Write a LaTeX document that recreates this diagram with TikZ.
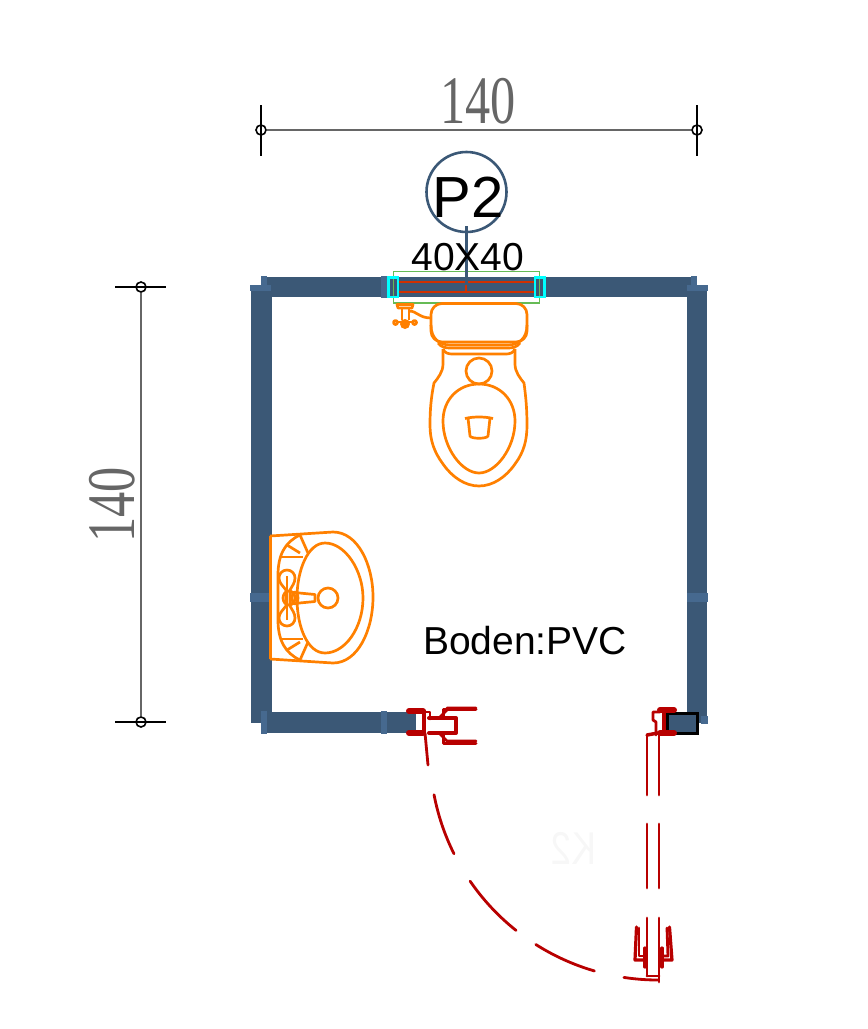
\documentclass[tikz,border=0pt]{standalone}
\usepackage{fontspec}
\setmainfont{Liberation Sans}
\newfontfamily\dimfont{Liberation Serif}
\definecolor{wallblue}{HTML}{3B5876}
\definecolor{stubblue}{HTML}{46698F}
\definecolor{sanorange}{HTML}{FF8000}
\definecolor{doorred}{HTML}{B80000}
\definecolor{dimgrey}{HTML}{666666}
\definecolor{winred}{HTML}{D03000}
\definecolor{wingreen}{HTML}{66BB55}
\definecolor{wincyan}{HTML}{00FFFF}
\definecolor{ghost}{HTML}{F7F7F7}
\tikzset{
  wall/.style={fill=wallblue,draw=none},
  stub/.style={fill=stubblue,draw=none},
  san/.style={draw=sanorange,line width=2.7pt,line join=round},
  door/.style={draw=doorred,line width=2.8pt,line cap=round,line join=round},
  doorbar/.style={draw=doorred,line width=6pt,line cap=round},
  dimline/.style={draw=dimgrey,line width=1.5pt},
  dimtick/.style={draw=black,line width=1.6pt},
  dimdot/.style={circle,draw=black,line width=1.6pt,minimum size=10pt,inner sep=0pt},
  dimtext/.style={text=dimgrey,font=\dimfont\fontsize{68}{68}\selectfont,inner sep=0pt},
}
\begin{document}
\begin{tikzpicture}[x=1pt,y=-1pt]
\useasboundingbox (0,0) rectangle (868,1029);

% -------- Walls -----------
\fill [wall] (261,277) rectangle (697,297);
\fill [wall] (251,286) rectangle (272,723);
\fill [wall] (687,286) rectangle (707,723);
\fill [wall] (261,712) rectangle (416,733);
\fill [wall] (667,713) rectangle (697,733);

\fill [stub] (261,276) rectangle (267,286);
\fill [stub] (250,285) rectangle (271,291);
\fill [stub] (691,276) rectangle (697,286);
\fill [stub] (687,285) rectangle (708,291);
\fill [stub] (250,593) rectangle (270,602);
\fill [stub] (687,593) rectangle (708,602);
\fill [stub] (261,711) rectangle (267,734);
\fill [stub] (381,711) rectangle (387,734);
\fill [stub] (381,276) rectangle (388,298);
\fill [stub] (701,716) rectangle (708,724);

\draw [black,line width=3pt] (667,713) rectangle (697,733);

% -------- Dimensions -----------
\node [dimdot] (topL) at (261,130) {};
\node [dimdot] (topR) at (697,130) {};
\node [dimdot] (sideT) at (141,287) {};
\node [dimdot] (sideB) at (141,722) {};
\draw [dimline] (topL) -- (topR);
\draw [dimline] (sideT) -- (sideB);
\draw [dimtick] (261,105) -- (261,156);
\draw [dimtick] (697,105) -- (697,156);
\draw [dimtick] (115,287) -- (166,287);
\draw [dimtick] (115,722) -- (166,722);
\node [dimtext,xscale=0.74] (topDim) at (478,101) {140};
\node [dimtext,rotate=90,xscale=0.74] (sideDim) at (112,505) {140};

% -------- Window -----------
\draw [wingreen,line width=1.5pt] (393.5,271.5) rectangle (539.5,303);
\draw [winred,line width=1.3pt] (398,282) -- (535,282);
\draw [winred,line width=1.3pt] (398,292) -- (535,292);
\draw [winred,line width=1.3pt] (466,282) -- (466,292);
\draw [wincyan,line width=2.6pt] (388.5,277.5) rectangle (398,297);
\draw [wincyan,line width=2.6pt] (535,277.5) rectangle (544.5,297);

\node [circle,draw=wallblue,line width=2.6pt,minimum size=80pt,inner sep=0pt] (winMark) at (466.5,192) {};
\coordinate (winFoot) at (466.5,285);
\draw [wallblue,line width=2.6pt] (466.5,226) -- (winFoot);
\node [inner sep=0pt,font=\fontsize{58}{58}\selectfont] (winName) at (468,197) {P2};
\node [inner sep=0pt,font=\fontsize{39}{39}\selectfont] (winSize) at (468,257) {40X40};

% -------- Toilet -----------
\draw [san,rounded corners=11pt] (431,303.5) rectangle (527,342);
\draw [san] (431,325) .. controls (431,339) and (440,345) .. (450,345) -- (508,345) .. controls (518,345) and (527,339) .. (527,325);
\draw [san] (438,343) .. controls (441,347) and (445,348) .. (450,348) -- (508,348) .. controls (513,348) and (517,347) .. (520,343);
\draw [san] (443,349) .. controls (445,353) and (448,354) .. (452,354) -- (506,354) .. controls (510,354) and (513,353) .. (515,349);
\draw [san] (443,349) -- (443,364) .. controls (443,372) and (438,378) .. (434,383)
  .. controls (431,398) and (430,410) .. (430,425) .. controls (430,440) and (434,452) .. (443,464)
  .. controls (452,477) and (465,486) .. (479,486) .. controls (493,486) and (506,477) .. (515,464)
  .. controls (524,452) and (527,440) .. (527,425) .. controls (527,410) and (526,398) .. (524,383)
  .. controls (520,378) and (515,372) .. (515,364) -- (515,349);
\draw [san] (479,384) .. controls (458,384) and (443,400) .. (443,421) .. controls (443,448) and (462,473) .. (479,473)
  .. controls (496,473) and (515,448) .. (515,421) .. controls (515,400) and (500,384) .. (479,384);
\draw [san] (479,371) circle (13);
\draw [san] (465,418.5) .. controls (473,416.5) and (485,416.5) .. (493,418.5);
\draw [san] (468,418) -- (470,436) .. controls (471,439) and (487,439) .. (488,436) -- (490,418);

% Flush valve
\draw [san] (397,304.5) -- (413,304.5) -- (412,308) -- (398,308) -- cycle;
\draw [san] (402,308) -- (402,320);
\draw [san] (409,308) -- (409,320);
\draw [san] (409,311) .. controls (417,311) and (419,318) .. (431,318);
\draw [san] (398,322) -- (412,322);
\draw [san] (395.5,322.5) circle (2);
\draw [san] (414.5,322.5) circle (2);
\fill [sanorange] (405,324) circle (5);

% -------- Sink -----------
\draw [san,line width=3pt] (270,536) -- (270,659);
\draw [san] (270,536) -- (333,532) .. controls (358,532) and (373,565) .. (373,597) .. controls (373,630) and (358,663) .. (333,663) -- (270,659);
\draw [san] (325,543) .. controls (345,543) and (363,570) .. (363,598) .. controls (363,628) and (345,653) .. (325,653) .. controls (308,653) and (297,628) .. (297,598) .. controls (297,570) and (308,543) .. (325,543);
\draw [san] (300,535) .. controls (285,542) and (278,555) .. (278,575) -- (278,620) .. controls (278,640) and (285,653) .. (300,660);
\draw [san] (287,545) -- (300,553);
\draw [san] (280,557) -- (303,557);
\draw [san] (300,535) -- (308,553);
\draw [san] (287,650) -- (300,642);
\draw [san] (280,639) -- (303,639);
\draw [san] (300,660) -- (308,642);
\draw [san] (328,598) circle (10);
\draw [san] (287,570) .. controls (282,570) and (279,574) .. (279,578) .. controls (279,583) and (283,586) .. (286,590) -- (286,606) .. controls (283,610) and (279,613) .. (279,618) .. controls (279,622) and (282,626) .. (287,626) .. controls (292,626) and (295,622) .. (295,618) .. controls (295,613) and (292,610) .. (290,606) -- (290,590) .. controls (292,586) and (295,583) .. (295,578) .. controls (295,574) and (292,570) .. (287,570);
\draw [san] (287,576) -- (287,620);
\draw [san] (289,592) -- (315,594.5) -- (315,601.5) -- (289,604);
\draw [san] (289,598) ellipse (6 and 7);
\draw [san] (295,598) ellipse (3 and 6);

% -------- Text -----------
\node [inner sep=0pt,font=\fontsize{39}{39}\selectfont] (floorText) at (525,641) {Boden:PVC};
\node [inner sep=0pt,text=ghost,xscale=-0.8,font=\fontsize{46}{46}\selectfont] (ghostText) at (574,848) {K2};

% -------- Door, hinge side -----------
\draw [doorbar] (409,711) -- (423,711);
\draw [doorbar] (409,733) -- (423,733);
\draw [door,line width=3.5pt] (424,711) -- (424,733);
\draw [door] (425,712) -- (430,712) -- (430,719);
\draw [door,line width=4pt] (429,718) -- (456,718) -- (456,733) -- (429,733);
\draw [door] (425,733) -- (428,765);
\draw [door] (440,717) -- (447,710) -- (447,708) -- (476,708);
\draw [door,line width=3pt] (443,717) -- (443,709) -- (476,709);
\draw [door] (440,734) -- (447,741) -- (476,741);
\draw [door,line width=3pt] (443,734) -- (443,743) -- (476,743);

% Swing of the door
\coordinate (swing) at (658,752);
\draw [door] (swing) ++(169.2:228) arc[start angle=169.2,end angle=153.5,radius=228];
\draw [door] (swing) ++(145.5:228) arc[start angle=145.5,end angle=128.5,radius=228];
\draw [door] (swing) ++(122.4:228) arc[start angle=122.4,end angle=106.2,radius=228];
\draw [door] (swing) ++(98.6:228) arc[start angle=98.6,end angle=90,radius=228];

% -------- Door, lock side -----------
\draw [doorbar] (660,710) -- (674,710);
\draw [doorbar] (660,733) -- (674,733);
\draw [door,line width=3.5pt] (664,710) -- (664,733);
\draw [door] (660,712) -- (653,712) -- (653,720) -- (656,722) -- (656,735);
\draw [door,line width=3.5pt] (647,735) -- (658,733);

\draw [door] (647,735) -- (647,795);
\draw [door] (659,735) -- (659,795);
\draw [door] (647,824) -- (647,888);
\draw [door] (659,824) -- (659,888);
\draw [door] (647,918) -- (647,976);
\draw [door] (659,918) -- (659,982);
\draw [door] (647,976) -- (659,976);

\draw [door,line width=3.2pt] (636.5,927) -- (635,960) -- (643,960);
\draw [door] (639,928) -- (639,956) -- (643,956);
\draw [door,line width=3.2pt] (645,948) -- (645,967);
\draw [door,line width=3.2pt] (669.5,927) -- (672,960) -- (663,960);
\draw [door] (667,928) -- (668,956) -- (663,956);
\draw [door,line width=3.2pt] (662,948) -- (662,967);

\end{tikzpicture}
\end{document}
